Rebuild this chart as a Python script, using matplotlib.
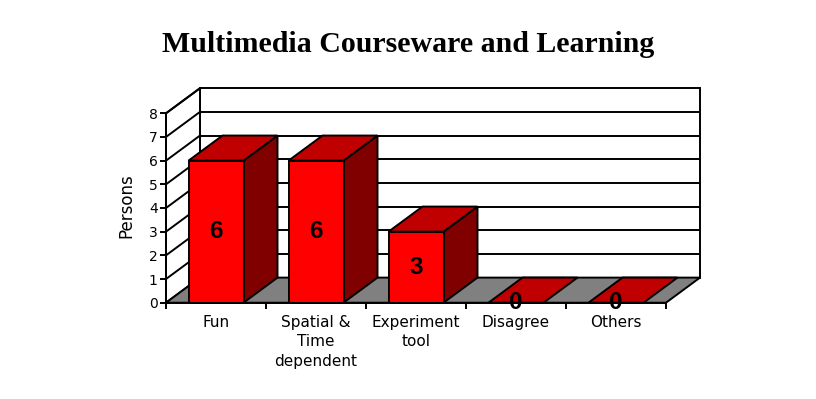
import numpy as np
import matplotlib.pyplot as plt
from matplotlib.patches import Polygon, Rectangle

categories = ["Fun", "Spatial &\nTime\ndependent", "Experiment\ntool", "Disagree", "Others"]
persons = [6, 6, 3, 0, 0]
yticks = list(range(0, 9))

# fake 3D look: depth offset in data units
dx, dy = 0.34, 1.06
bw = 0.55
ymax = yticks[-1]
n = len(categories)

plt.rcParams['font.family'] = ['DejaVu Sans']

fig = plt.figure(figsize=(8.16, 3.99), dpi=100)
ax = fig.add_axes([166 / 816, (399 - 302.7) / 399, (700 - 166) / 816, (302.7 - 88.2) / 399])
ax.set_xlim(0, n + dx)
ax.set_ylim(0, ymax + dy)


def face(pts, color, z):
    ax.add_patch(Polygon(pts, closed=True, fc=color, ec='black', lw=1.4,
                         joinstyle='miter', zorder=z, clip_on=False))


# back wall + gridlines
face([(dx, dy), (n + dx, dy), (n + dx, ymax + dy), (dx, ymax + dy)], 'white', 1)
for k in yticks[1:-1]:
    ax.plot([dx, n + dx], [k + dy, k + dy], color='black', lw=1.4, zorder=1.1)

# left wall
face([(0, 0), (dx, dy), (dx, ymax + dy), (0, ymax)], 'white', 1)
for k in yticks[1:]:
    ax.plot([0, dx], [k, k + dy], color='black', lw=1.4, zorder=1.1, clip_on=False)

# floor
face([(0, 0), (n, 0), (n + dx, dy), (dx, dy)], '#808080', 2)

# bars
for i, v in enumerate(persons):
    x0 = i + 0.5 - bw / 2
    x1 = x0 + bw
    if v > 0:
        face([(x1, 0), (x1 + dx, dy), (x1 + dx, v + dy), (x1, v)], '#800000', 3)
    face([(x0, v), (x1, v), (x1 + dx, v + dy), (x0 + dx, v + dy)], '#C00000', 3)
    if v > 0:
        ax.add_patch(Rectangle((x0, 0), bw, v, fc='#FF0000', ec='black', lw=1.4,
                               joinstyle='miter', zorder=3, clip_on=False))
    ax.text(i + 0.5, v / 2, str(v), ha='center', va='center', fontsize=17.5,
            fontweight='bold', family='Liberation Sans', zorder=5)

# axes styling
for s in ['top', 'right']:
    ax.spines[s].set_visible(False)
ax.spines['left'].set_bounds(0, ymax)
ax.spines['bottom'].set_bounds(0, n)
for s in ['left', 'bottom']:
    ax.spines[s].set_linewidth(1.4)
    ax.spines[s].set_zorder(4)

ax.set_yticks(yticks)
ax.tick_params(axis='y', direction='out', length=4.5, width=1.4, pad=1.5, labelsize=10)
ax.set_xticks(np.arange(0, n + 1))
ax.set_xticklabels([])
ax.set_xticks(np.arange(n) + 0.5, minor=True)
ax.set_xticklabels(categories, minor=True, fontsize=11, linespacing=1.35)
ax.tick_params(axis='x', which='major', direction='out', length=4, width=1.4)
ax.tick_params(axis='x', which='minor', length=0, pad=9)

ax.set_ylabel("Persons", fontsize=12)
ax.yaxis.set_label_coords(-0.058, 0.451)

fig.text(0.5, 1 - 45 / 399, "Multimedia Courseware and Learning", ha='center', va='center',
         fontsize=21.5, fontweight='bold', family='Liberation Serif')

fig.savefig("out.png", dpi=100)
